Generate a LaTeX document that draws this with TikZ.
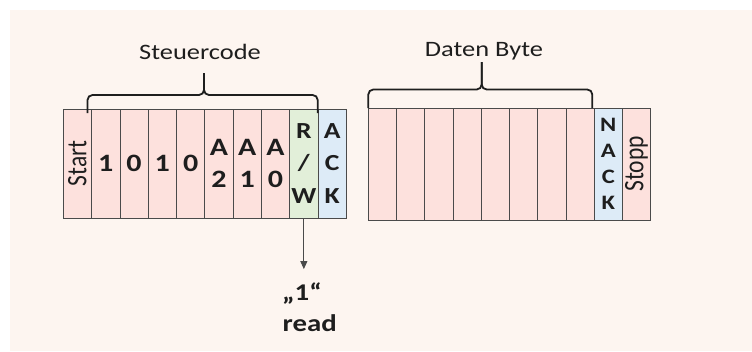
\documentclass[tikz,border=0pt]{standalone}
\usepackage{graphicx}
\usepackage{fontspec}
\setmainfont{Carlito}
\newfontfamily\widefont{Carlito}[FakeStretch=1.2]
\usetikzlibrary{arrows.meta}

\definecolor{bgcream}{HTML}{FDF5F0}
\definecolor{cellpink}{HTML}{FDE1DD}
\definecolor{cellgreen}{HTML}{E2EFD9}
\definecolor{cellblue}{HTML}{DDEBF7}
\definecolor{edgegray}{HTML}{4A4A4A}
\definecolor{inkdark}{HTML}{1E1E1E}

% upright text rotated by 90 degrees, widened across the page like the rest
\newcommand{\sidetext}[1]{\rotatebox{90}{\scalebox{1}[1.2]{\fontsize{23.5}{26}\selectfont #1}}}

\begin{document}
\begin{tikzpicture}[x=1pt,y=-1pt,
  cell/.style={draw=edgegray, line width=0.8pt, fill=cellpink, inner sep=0pt,
    outer sep=0pt, anchor=north west, text=inkdark},
  cellA/.style={cell, minimum width=28.3pt, minimum height=109pt},
  cellB/.style={cell, minimum width=28.24pt, minimum height=112pt},
  bits/.style={font=\widefont\bfseries\fontsize{25}{32}\selectfont, align=center},
  flagbits/.style={font=\widefont\bfseries\fontsize{23}{32.5}\selectfont, align=center},
  nackbits/.style={font=\widefont\bfseries\fontsize{20.5}{26}\selectfont, align=center},
  grouplabel/.style={font=\widefont\fontsize{22}{26}\selectfont, text=inkdark, anchor=base, inner sep=0pt},
  bracket/.style={draw=inkdark, line width=1.8pt, rounded corners=5pt},
  note/.style={font=\widefont\bfseries\fontsize{24}{30}\selectfont, text=inkdark, anchor=base west, inner sep=0pt},
  pointer/.style={draw=edgegray, line width=0.8pt, -{Triangle[length=8pt,width=7pt]}}
]
\useasboundingbox (0,0) rectangle (752,351);
\fill[bgcream] (10,10) rectangle (752,351);

% control byte: start, device code, address, R/W, ACK
\node[cellA] (c0) at (63.3,109) {\sidetext{Start}};
\node[cellA, bits] (c1) at (91.6,109) {1};
\node[cellA, bits] (c2) at (119.9,109) {0};
\node[cellA, bits] (c3) at (148.2,109) {1};
\node[cellA, bits] (c4) at (176.5,109) {0};
\node[cellA, bits] (c5) at (204.8,109) {A\\2};
\node[cellA, bits] (c6) at (233.1,109) {A\\1};
\node[cellA, bits] (c7) at (261.4,109) {A\\0};
\node[cellA, flagbits, fill=cellgreen] (rw) at (289.7,109) {R\\/\\W};
\node[cellA, flagbits, fill=cellblue] (ack) at (318.0,109) {A\\C\\K};

% data byte, NACK, stop
\node[cellB] (d0) at (368.3,108) {};
\node[cellB] (d1) at (396.54,108) {};
\node[cellB] (d2) at (424.78,108) {};
\node[cellB] (d3) at (453.02,108) {};
\node[cellB] (d4) at (481.26,108) {};
\node[cellB] (d5) at (509.5,108) {};
\node[cellB] (d6) at (537.74,108) {};
\node[cellB] (d7) at (565.98,108) {};
\node[cellB, nackbits, fill=cellblue] (nack) at (594.22,108) {N\\A\\C\\K};
\node[cellB] (stop) at (622.46,108) {\sidetext{Stopp}};

% group brackets
\draw[bracket] (87.5,113) -- (87.5,95) -- (204,95) -- (204,73);
\draw[bracket] (317.7,113) -- (317.7,95) -- (204,95) -- (204,73);
\node[grouplabel] (lsteuer) at (200,59) {Steuercode};

\draw[bracket] (368.3,108) -- (368.3,89.5) -- (481.7,89.5) -- (481.7,62);
\draw[bracket] (592.3,108) -- (592.3,89.5) -- (481.7,89.5) -- (481.7,62);
\node[grouplabel] (ldaten) at (484,56) {Daten Byte};

% R/W bit value
\node[note] (one) at (282,300) {„1“};
\node[note] (rd) at (282.5,331) {read};
\draw[pointer, shorten >=13pt] (rw.south) -- (rw.south |- one.north);
\end{tikzpicture}
\end{document}
